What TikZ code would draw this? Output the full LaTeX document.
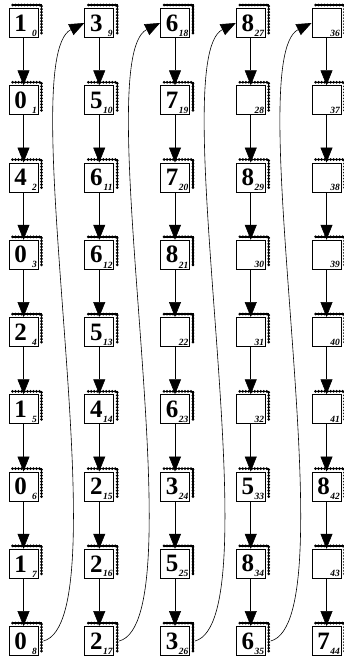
\documentclass[tikz,border=0pt]{standalone}
\usepackage{fontspec}
\setmainfont{Liberation Serif}
\usetikzlibrary{arrows.meta, calc}

\tikzset{
  cell/.style={draw, line width=0.9pt, minimum width=29pt, minimum height=29pt, inner sep=0pt},
  frill/.style={line width=3pt, line cap=round, dash pattern=on 0pt off 3pt,
    preaction={draw, line width=1.4pt, solid}},
  digit/.style={inner sep=0pt, font=\bfseries\fontsize{25}{25}\selectfont},
  index/.style={inner sep=0pt, anchor=south east, font=\bfseries\itshape\fontsize{9.5}{9.5}\selectfont},
  link/.style={-{Triangle[width=12pt, length=15pt]}, line width=0.6pt},
}

\begin{document}
\begin{tikzpicture}[x=1pt, y=1pt]
    \useasboundingbox (0,0) rectangle (343,-661);

    % Cells, nine to a column
    \foreach \d [count=\i from 0] in {1,0,4,0,2,1,0,1,0, 3,5,6,6,5,4,2,2,2, 6,7,7,8,{},6,3,5,3, 8,{},8,{},{},{},5,8,6, {},{},{},{},{},{},8,{},7} {
        \pgfmathtruncatemacro{\c}{int(\i/9)}
        \pgfmathtruncatemacro{\r}{\i-9*\c}
        \node[cell] (n\i) at ({23.5+75.75*\c}, {-23-77.25*\r}) {};
        % Scalloped edge on top and right
        \draw[frill] ($(n\i.north west)+(4,3)$) -- ($(n\i.north east)+(3,3)$) -- ($(n\i.south east)+(3,4)$);
        \ifx\d\empty\else
            \node[digit] (d\i) at ($(n\i.center)+(-3,0)$) {\d};
        \fi
        \node[index] (k\i) at ($(n\i.south east)+(-1.5,1.5)$) {\i};
    }

    % Links down each column
    \foreach \c in {0,...,4}
        \foreach \r in {1,...,8} {
            \pgfmathtruncatemacro{\a}{9*\c+\r-1}
            \pgfmathtruncatemacro{\b}{9*\c+\r}
            \draw[link] (n\a.south) -- (n\b.north);
        }

    % From the foot of one column to the head of the next
    \foreach \c in {0,...,3} {
        \pgfmathtruncatemacro{\a}{9*\c+8}
        \pgfmathtruncatemacro{\b}{9*\c+9}
        \draw[link] ([xshift=5pt]n\a.east) .. controls +(80,21) and +(-73,-36) .. (n\b.west);
    }
\end{tikzpicture}
\end{document}
